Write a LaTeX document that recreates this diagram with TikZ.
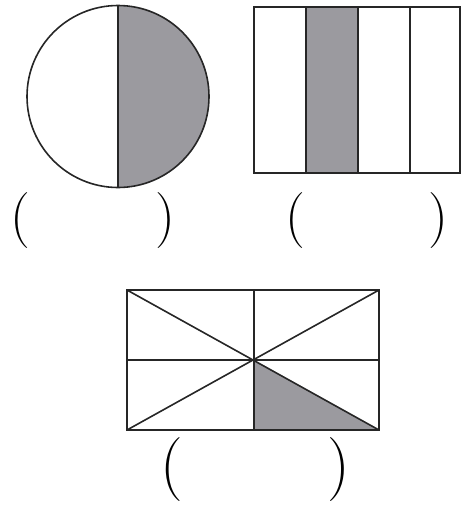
\documentclass[tikz,border=0pt]{standalone}
\definecolor{fillgray}{RGB}{155,154,159}
\begin{document}
\begin{tikzpicture}[x=1pt,y=-1pt,
  edge/.style={line width=1.6pt,draw=black!85},
  paren/.style={inner sep=0pt,font=\fontsize{56}{60}\selectfont},
  bigparen/.style={inner sep=0pt,font=\fontsize{64}{68}\selectfont}]
\useasboundingbox (0,0) rectangle (462,506);
% circle
\coordinate (cc) at (118,96.5);
\fill[fillgray] (118,5.5) arc[start angle=-90,end angle=90,radius=91] -- cycle;
\draw[edge] (cc) circle[radius=91];
\draw[edge] (118,5.5) -- (118,187.5);
\node[paren] (p1) at (20,221) {(};
\node[paren] (p2) at (165,221) {)};
% strips
\fill[fillgray] (306,7) rectangle (358,173);
\draw[edge] (254,7) rectangle (460,173);
\draw[edge] (306,7) -- (306,173) (358,7) -- (358,173) (410,7) -- (410,173);
\node[paren] (p3) at (295,221) {(};
\node[paren] (p4) at (438,221) {)};
% bottom rectangle
\fill[fillgray] (254,360) -- (379,430) -- (254,430) -- cycle;
\draw[edge] (127,290) rectangle (379,430);
\draw[edge] (254,290) -- (254,430) (127,360) -- (379,360);
\draw[edge] (127,290) -- (379,430) (127,430) -- (379,290);
\node[bigparen] (p5) at (172,470) {(};
\node[bigparen] (p6) at (339,470) {)};
\end{tikzpicture}
\end{document}
